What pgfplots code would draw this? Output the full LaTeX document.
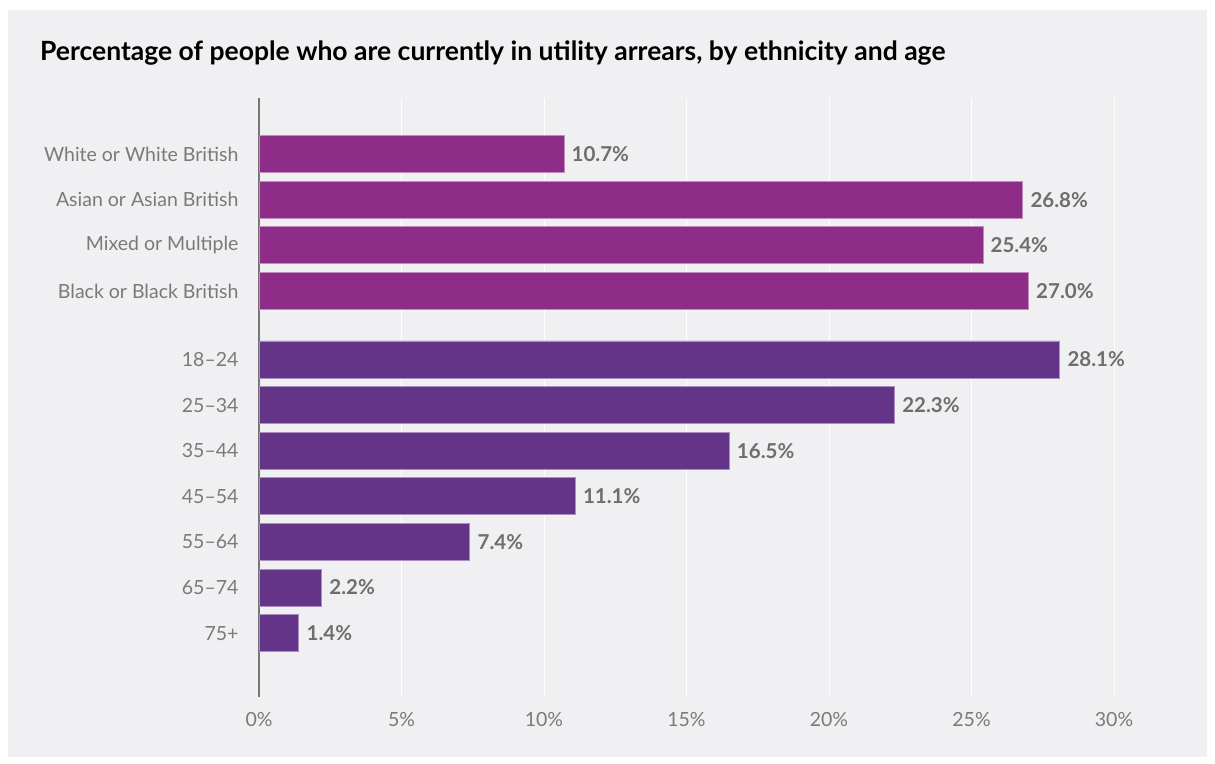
\documentclass[border=0pt]{standalone}
\usepackage{pgfplots}
\pgfplotsset{compat=1.18}
\usepackage{fontspec}
\setmainfont{Lato}
\definecolor{panel}{HTML}{F0F0F2}
\definecolor{ethn}{HTML}{8D2D87}
\definecolor{agec}{HTML}{643489}
\definecolor{ticktxt}{HTML}{7A7A7A}
\definecolor{valtxt}{HTML}{6E6E6E}
\definecolor{axisgray}{HTML}{777777}
\begin{document}
\begin{tikzpicture}
\path[use as bounding box] (-259pt,-66pt) rectangle (956pt,697pt);
\fill[panel] (-251pt,-60pt) rectangle (948pt,687pt);
\node[anchor=west, font=\fontsize{26.5}{30}\selectfont\bfseries, text=black, inner sep=0pt]
  at (-219pt,644pt) {Percentage of people who are currently in utility arrears, by ethnicity and age};
\begin{axis}[
  at={(0pt,0pt)}, anchor=south west,
  scale only axis, width=855pt, height=599pt,
  xmin=0, xmax=30, ymin=-1.4, ymax=11.73,
  xbar, bar width=37pt, bar shift=0pt,
  axis x line*=bottom, axis y line*=left,
  x axis line style={draw=none},
  y axis line style={draw=axisgray, line width=2.2pt},
  major tick length=0pt,
  xtick={0,5,...,30},
  xticklabels={0\%,5\%,10\%,15\%,20\%,25\%,30\%},
  xmajorgrids, grid style={white, line width=0.7pt},
  ytick={0,1,2,3,4,5,6,7.5,8.5,9.5,10.5},
  yticklabels={75+,65–74,55–64,45–54,35–44,25–34,18–24,Black or Black British,Mixed or Multiple,Asian or Asian British,White or White British},
  ticklabel style={font=\fontsize{19.5}{23}\selectfont, text=ticktxt},
  yticklabel style={xshift=-17pt},
  xticklabel style={yshift=-12pt},
  /pgf/number format/assume math mode=true,
  nodes near coords={\pgfmathprintnumber[fixed,precision=1,fixed zerofill,assume math mode=true]{\pgfplotspointmeta}\%},
  nodes near coords style={anchor=west, xshift=4pt, font=\fontsize{20.5}{24}\selectfont\bfseries, text=valtxt},
  point meta=x,
  clip=false,
]
\addplot[fill=ethn, draw=ethn!55!white, line width=0.8pt] coordinates {
  (10.7,10.5) (26.8,9.5) (25.4,8.5) (27.0,7.5)
};
\addplot[fill=agec, draw=agec!55!white, line width=0.8pt] coordinates {
  (28.1,6) (22.3,5) (16.5,4) (11.1,3) (7.4,2) (2.2,1) (1.4,0)
};
\end{axis}
\end{tikzpicture}
\end{document}
